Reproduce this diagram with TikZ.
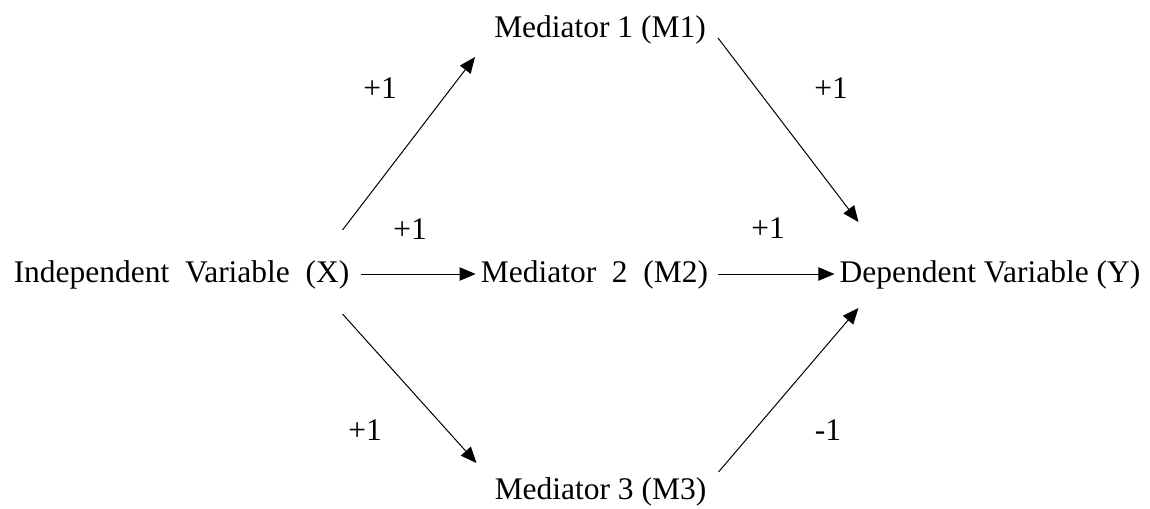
\documentclass[tikz,border=0pt]{standalone}
\usepackage{fontspec}
\setmainfont{Liberation Serif}
\usetikzlibrary{arrows.meta,calc}
\tikzset{
  var/.style={anchor=base, inner sep=0pt, font=\fontsize{23.6}{28}\selectfont},
  coef/.style={anchor=base, inner sep=0pt, font=\fontsize{23.6}{28}\selectfont},
  arr/.style={line width=0.75pt, -{Triangle[length=12pt,width=10pt]}}
}
\begin{document}
\begin{tikzpicture}[x=0.75pt,y=-0.75pt]
\useasboundingbox (0,0) rectangle (1150,508);
% variables
\node[var] (X)  at (181.5,282) {Independent\ \ Variable\ \ (X)};
\node[var] (M2) at (594.5,282) {Mediator\ \ 2\ \ (M2)};
\node[var] (Y)  at (990,282)   {Dependent Variable (Y)};
\node[var] (M1) at (600,37)    {Mediator 1 (M1)};
\node[var] (M3) at (600.5,499) {Mediator 3 (M3)};
% coefficients
\node[coef] (c1) at (380,98)  {+1};
\node[coef] (c2) at (831,98)  {+1};
\node[coef] (c3) at (410,239) {+1};
\node[coef] (c4) at (768,238) {+1};
\node[coef] (c5) at (365,440) {+1};
\node[coef] (c6) at (828,440) {-1};
% paths
\draw[arr] ($(X.base east)+(11,-8)$) -- ($(M2.base west)+(-5,-8)$);
\draw[arr] ($(M2.base east)+(10,-8)$) -- ($(Y.base west)+(-5,-8)$);
\draw[arr] ($(X.base east)+(-7,-52)$) -- ($(M1.base west)+(-19,20)$);
\draw[arr] ($(M1.base east)+(12,1)$) -- ($(Y.base west)+(19,-60)$);
\draw[arr] ($(X.base east)+(-7,32)$) -- ($(M3.base west)+(-18,-36)$);
\draw[arr] ($(M3.base east)+(12,-27)$) -- ($(Y.base west)+(19,26)$);
\end{tikzpicture}
\end{document}
